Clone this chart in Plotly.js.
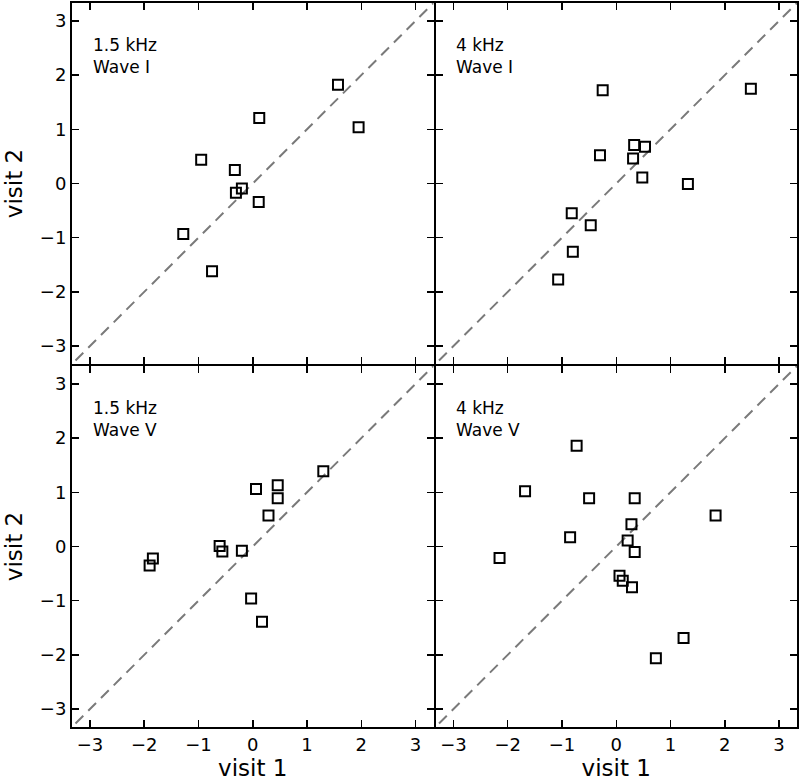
<!DOCTYPE html>
<html>
<head>
<meta charset="utf-8">
<script src="https://cdn.plot.ly/plotly-3.0.1.min.js"></script>
<style>html,body{margin:0;padding:0;background:#fff;}#chart{width:800px;height:784px;}</style>
</head>
<body>
<div id="chart"></div>
<script>
// Panel labels
const panelLabels = ["1.5 kHz<br>Wave I", "4 kHz<br>Wave I", "1.5 kHz<br>Wave V", "4 kHz<br>Wave V"];

// Top-left: 1.5 kHz Wave I
const tlX = [1.57, 0.12, 1.95, -0.95, -0.33, -0.31, -0.20, 0.11, -1.28, -0.75];
const tlY = [1.82, 1.21, 1.04, 0.44, 0.25, -0.17, -0.09, -0.34, -0.93, -1.62];

// Top-right: 4 kHz Wave I
const trX = [-0.25, 2.48, 0.33, 0.53, -0.30, 0.31, 0.48, 1.32, -0.82, -0.47, -0.80, -1.07];
const trY = [1.72, 1.75, 0.71, 0.68, 0.52, 0.46, 0.11, -0.01, -0.55, -0.77, -1.26, -1.77];

// Bottom-left: 1.5 kHz Wave V
const blX = [1.30, 0.06, 0.46, 0.46, 0.29, -0.61, -0.56, -0.20, -1.84, -1.90, -0.03, 0.17];
const blY = [1.39, 1.06, 1.13, 0.89, 0.57, 0.01, -0.09, -0.08, -0.22, -0.35, -0.96, -1.39];

// Bottom-right: 4 kHz Wave V
const brX = [-0.73, -1.68, -0.50, 0.34, 1.83, 0.28, -0.85, 0.21, 0.34, -2.15, 0.06, 0.12, 0.29, 1.24, 0.73];
const brY = [1.86, 1.02, 0.89, 0.89, 0.57, 0.41, 0.17, 0.11, -0.10, -0.21, -0.54, -0.63, -0.75, -1.69, -2.06];

// identity reference line (y = x)
const identity = [-3.5, 3.5];

const tickVals = [-3, -2, -1, 0, 1, 2, 3];
const axRange = [-3.33, 3.33];

const FONT = "DejaVu Sans, sans-serif";

const panels = [
  {x: tlX, y: tlY, xa: "x", ya: "y"},
  {x: trX, y: trY, xa: "x2", ya: "y2"},
  {x: blX, y: blY, xa: "x3", ya: "y3"},
  {x: brX, y: brY, xa: "x4", ya: "y4"}
];

const traces = [];
panels.forEach(p => {
  traces.push({
    x: identity, y: identity, xaxis: p.xa, yaxis: p.ya,
    mode: "lines", type: "scatter", hoverinfo: "skip",
    line: {color: "#7a7a7a", width: 2, dash: "11px,7px"}
  });
  traces.push({
    x: p.x, y: p.y, xaxis: p.xa, yaxis: p.ya,
    mode: "markers", type: "scatter",
    marker: {symbol: "square-open", size: 10, color: "#000", line: {width: 2, color: "#000"}}
  });
});

function axis(domain, showLabels, title, anchor, standoff) {
  const a = {
    domain: domain, anchor: anchor, range: axRange, autorange: false,
    tickvals: tickVals, ticks: "inside", ticklen: 7, tickwidth: 1.5, tickcolor: "#000",
    showline: true, linecolor: "#000", linewidth: 2, mirror: "ticks",
    showgrid: false, zeroline: false, showticklabels: showLabels,
    tickfont: {family: FONT, size: 18, color: "#000"}
  };
  if (title) a.title = {text: title, font: {family: FONT, size: 23, color: "#000"}, standoff: standoff};
  return a;
}

// small overlap so that shared panel borders coincide
const gx = 1 / 725, gy = 1 / 724;
const dL = [0, 0.5 - gx], dR = [0.5 + gx, 1];
const dT = [0.5 + gy, 1], dB = [0, 0.5 - gy];

const annotations = panelLabels.map((t, i) => ({
  text: t, showarrow: false, align: "left",
  xref: (i === 0 ? "x" : "x" + (i + 1)) + " domain",
  yref: (i === 0 ? "y" : "y" + (i + 1)) + " domain",
  x: 0.052, y: 0.918, xanchor: "left", yanchor: "top",
  font: {family: FONT, size: 17, color: "#000"}
}));

const layout = {
  width: 800, height: 784,
  margin: {l: 72, r: 3, t: 3, b: 57},
  paper_bgcolor: "#fff", plot_bgcolor: "#fff",
  showlegend: false,
  xaxis:  axis(dL, false, null, "y"),
  yaxis:  axis(dT, true, "visit 2", "x", 11),
  xaxis2: axis(dR, false, null, "y2"),
  yaxis2: axis(dT, false, null, "x2"),
  xaxis3: axis(dL, true, "visit 1", "y3", 6),
  yaxis3: axis(dB, true, "visit 2", "x3", 11),
  xaxis4: axis(dR, true, "visit 1", "y4", 6),
  yaxis4: axis(dB, false, null, "x4"),
  annotations: annotations
};

Plotly.newPlot("chart", traces, layout, {displayModeBar: false, staticPlot: true});
</script>
</body>
</html>
